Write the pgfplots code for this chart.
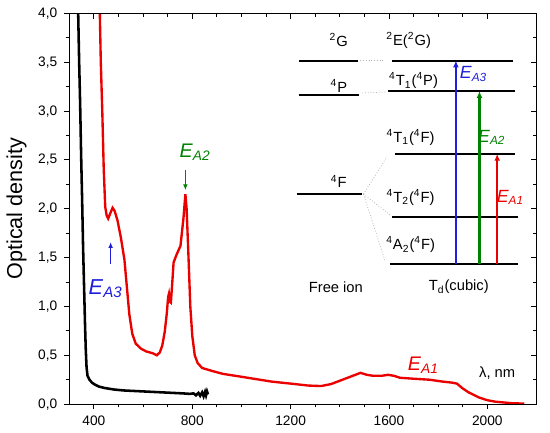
\documentclass[border=0pt]{standalone}
\usepackage{fontspec}
\setmainfont{Liberation Sans}
\usepackage{pgfplots}
\pgfplotsset{compat=1.18}
\usetikzlibrary{arrows.meta}

\definecolor{ored}{RGB}{235,0,0}
\definecolor{ogreen}{RGB}{0,130,0}
\definecolor{oblue}{RGB}{30,30,220}
\newcommand{\EA}[1]{\textit{E}\textsubscript{\textit{A#1}}}
\newcommand{\sups}[1]{\textsuperscript{#1}}
\newcommand{\subs}[1]{\textsubscript{#1}}

\begin{document}
\begin{tikzpicture}
\pgfplotsset{
  common/.style={
    width=238pt, height=199pt, scale only axis,
    xmin=300, xmax=2200, ymin=0, ymax=4,
    xtick={400,800,1200,1600,2000}, ytick={0,0.5,...,4},
    minor x tick num=3, minor y tick num=1,
    major tick length=2.6pt, minor tick length=1.6pt,
    axis line style={line width=0.5pt}, every tick/.style={line width=0.5pt,black},
  }
}
\begin{axis}[common,
  xtick pos=left, ytick pos=left, tick align=outside,
  font=\fontsize{7}{8}\selectfont,
  /pgf/number format/assume math mode=true,
  xticklabel style={/pgf/number format/1000 sep={}},
  yticklabel style={/pgf/number format/.cd, fixed, fixed zerofill, precision=1, use comma},
  ylabel={Optical density},
  ylabel style={font=\fontsize{11}{12}\selectfont, yshift=-1pt},
  clip=true]

% black: reference (no Co)
\addplot[black, line width=1.3pt] coordinates {
(334,4.3) (336,4.0) (340,3.5) (344,3.07) (348,2.55) (352,2.1) (356,1.6) (360,1.2)
(364,0.8) (367,0.55) (370,0.38) (374,0.29) (382,0.25) (392,0.22) (404,0.20)
(420,0.18) (444,0.165) (480,0.15) (520,0.14) (560,0.135) (600,0.13) (640,0.125)
(680,0.12) (720,0.115) (760,0.11) (790,0.105) (805,0.11) (815,0.09) (825,0.115)
(832,0.085) (840,0.12) (846,0.08) (852,0.125) (856,0.09) (860,0.13) (864,0.10)
};

% red: sample
\addplot[ored, line width=1.2pt] coordinates {
(420,4.3) (424,4.0) (428,3.5) (434,3.0) (440,2.4) (446,2.02) (452,1.93) (458,1.9)
(466,1.95) (476,2.01) (484,1.98) (496,1.88) (510,1.7) (524,1.48) (534,1.2)
(544,0.92) (556,0.72) (570,0.62) (590,0.57) (612,0.54) (640,0.52) (656,0.5)
(668,0.53) (678,0.6) (688,0.74) (696,0.92) (702,1.1) (705,1.13) (709,1.05)
(713,1.04) (718,1.22) (724,1.45) (736,1.53) (752,1.62) (764,1.9) (772,2.15)
(777,2.0) (784,1.55) (792,1.0) (800,0.7) (810,0.5) (822,0.42) (840,0.37)
(880,0.34) (924,0.31) (1000,0.28) (1124,0.23) (1200,0.21) (1272,0.19) (1324,0.185)
(1364,0.205) (1432,0.27) (1484,0.32) (1510,0.30) (1536,0.29) (1570,0.29)
(1596,0.30) (1620,0.29) (1644,0.27) (1700,0.26) (1764,0.25) (1820,0.23)
(1856,0.22) (1876,0.21) (1900,0.16) (1924,0.12) (1964,0.07) (2000,0.04)
(2032,0.025) (2096,0.01) (2150,0.005)
};

% curve annotations
\draw[oblue, line width=0.7pt, -{Latex[length=3pt,width=2.4pt]}] (axis cs:468,1.43) -- (axis cs:468,1.66);
\node[oblue, font=\fontsize{11}{12}\selectfont] at (axis cs:448,1.18) {\EA{3}};
\draw[ogreen, line width=0.7pt, -{Latex[length=3pt,width=2.4pt]}] (axis cs:772,2.40) -- (axis cs:772,2.19);
\node[ogreen, font=\fontsize{10}{11}\selectfont] at (axis cs:812,2.58) {\EA{2}};
\node[ored, font=\fontsize{10}{11}\selectfont] at (axis cs:1740,0.40) {\EA{1}};
\node[font=\fontsize{7.5}{8}\selectfont] at (axis cs:2040,0.32) {λ, nm};

% energy level diagram
\begin{scope}[line width=1pt]
\draw (axis cs:1236,3.518) -- (axis cs:1472,3.518);
\draw (axis cs:1232,3.166) -- (axis cs:1480,3.166);
\draw (axis cs:1224,2.151) -- (axis cs:1492,2.151);
\draw (axis cs:1612,3.518) -- (axis cs:2104,3.518);
\draw (axis cs:1596,3.206) -- (axis cs:2112,3.206);
\draw (axis cs:1624,2.563) -- (axis cs:2112,2.563);
\draw (axis cs:1612,1.920) -- (axis cs:2124,1.920);
\draw (axis cs:1604,1.437) -- (axis cs:2124,1.437);
\end{scope}
\begin{scope}[gray!60, densely dotted, line width=0.4pt]
\draw (axis cs:1484,3.518) -- (axis cs:1584,3.518);
\draw (axis cs:1492,3.186) -- (axis cs:1592,3.196);
\draw (axis cs:1496,2.151) -- (axis cs:1592,2.533);
\draw (axis cs:1496,2.151) -- (axis cs:1608,1.930);
\draw (axis cs:1496,2.151) -- (axis cs:1584,1.467);
\end{scope}
\begin{scope}[font=\fontsize{7.5}{8}\selectfont]
\node at (axis cs:1396,3.73) {\sups{2}G};
\node at (axis cs:1680,3.72) {\sups{2}E(\sups{2}G)};
\node at (axis cs:1396,3.26) {\sups{4}P};
\node at (axis cs:1700,3.31) {\sups{4}T\subs{1}(\sups{4}P)};
\node at (axis cs:1688,2.73) {\sups{4}T\subs{1}(\sups{4}F)};
\node at (axis cs:1396,2.28) {\sups{4}F};
\node at (axis cs:1688,2.12) {\sups{4}T\subs{2}(\sups{4}F)};
\node at (axis cs:1688,1.63) {\sups{4}A\subs{2}(\sups{4}F)};
\node at (axis cs:1384,1.20) {Free ion};
\node at (axis cs:1884,1.20) {T\subs{d}(cubic)};
\end{scope}
\draw[oblue, line width=1.1pt, -{Latex[length=3.5pt,width=3pt]}] (axis cs:1872,1.437) -- (axis cs:1872,3.518);
\draw[ogreen, line width=1.1pt, -{Latex[length=3.5pt,width=3pt]}] (axis cs:1968,1.437) -- (axis cs:1968,3.206);
\draw[ored, line width=1.1pt, -{Latex[length=3.5pt,width=3pt]}] (axis cs:2040,1.437) -- (axis cs:2040,2.563);
\node[oblue, font=\fontsize{9}{10}\selectfont] at (axis cs:1944,3.38) {\EA{3}};
\node[ogreen, font=\fontsize{9}{10}\selectfont] at (axis cs:2018,2.73) {\EA{2}};
\node[ored, font=\fontsize{9}{10}\selectfont] at (axis cs:2094,2.12) {\EA{1}};
\end{axis}

% top and right ticks pointing inward
\begin{axis}[common,
  xtick pos=right, ytick pos=right, tick align=inside,
  xticklabels={}, yticklabels={}]
\end{axis}
\end{tikzpicture}
\end{document}
